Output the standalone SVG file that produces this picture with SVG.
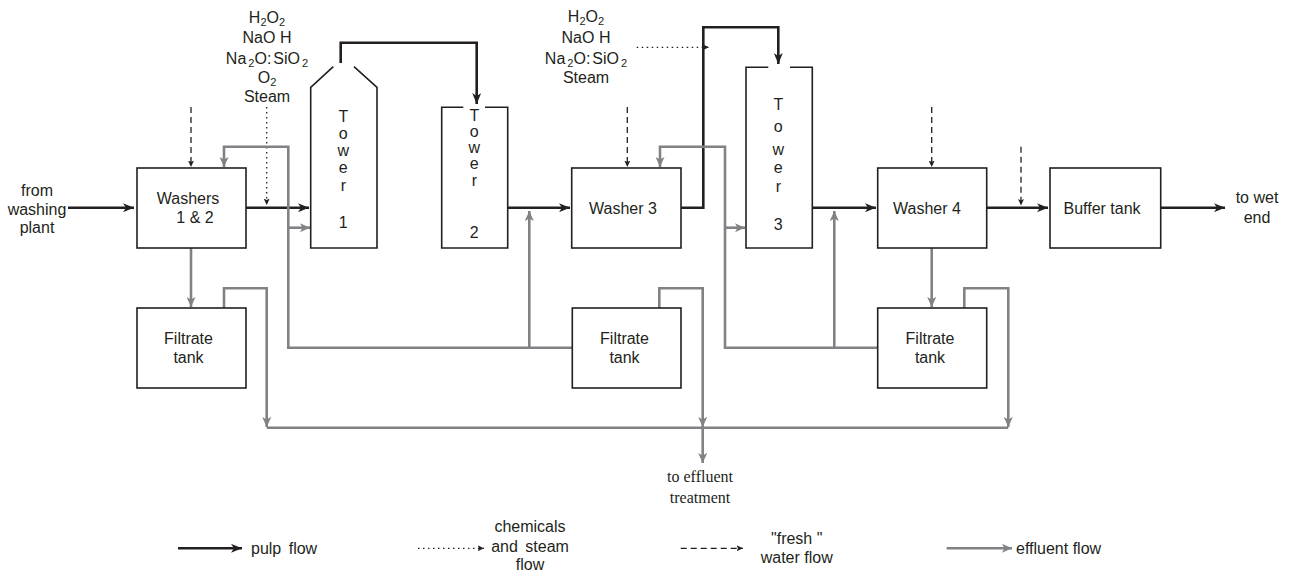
<svg xmlns="http://www.w3.org/2000/svg" width="1289" height="572" viewBox="0 0 1289 572">
<style>
text{font-family:"Liberation Sans",Arial,sans-serif;font-size:16px;fill:#231f20}
.serif{font-family:"Liberation Serif","Times New Roman",serif}
.box{fill:#fff;stroke:#231f20;stroke-width:1.6}
.tw{fill:none;stroke:#231f20;stroke-width:1.6}
.pulp{fill:none;stroke:#231f20;stroke-width:2.6}
.eff{fill:none;stroke:#808285;stroke-width:2.6}
.chem{fill:none;stroke:#231f20;stroke-width:1.3;stroke-dasharray:1.5 3.5}
.water{fill:none;stroke:#231f20;stroke-width:1.3;stroke-dasharray:6 4}
.sub{font-size:11px}
</style>
<defs>
<marker id="ap" markerUnits="userSpaceOnUse" markerWidth="12" markerHeight="9" refX="11" refY="4.5" orient="auto"><path d="M0,0 L11,4.5 L0,9 L3,4.5z" fill="#231f20"/></marker>
<marker id="ag" markerUnits="userSpaceOnUse" markerWidth="11" markerHeight="9" refX="10" refY="4.5" orient="auto"><path d="M0,0 L10,4.5 L0,9 L2.5,4.5z" fill="#808285"/></marker>
<marker id="as" markerUnits="userSpaceOnUse" markerWidth="7" markerHeight="6" refX="6.5" refY="3" orient="auto"><path d="M0,0 L6.5,3 L0,6 L1.5,3z" fill="#231f20"/></marker>
</defs>

<g id="connectors">
<!-- pulp flow -->
<path class="pulp" d="M68,207.7 H134" marker-end="url(#ap)"/>
<path class="pulp" d="M246,207.7 H309" marker-end="url(#ap)"/>
<path class="pulp" d="M340.7,63 V42.7 H476.7 V104" marker-end="url(#ap)"/>
<path class="pulp" d="M507.7,207.7 H570" marker-end="url(#ap)"/>
<path class="pulp" d="M681,207.7 H703.3 V27.3 H778.3 V64" marker-end="url(#ap)"/>
<path class="pulp" d="M812.3,207.7 H876" marker-end="url(#ap)"/>
<path class="pulp" d="M986.7,207.7 H1048" marker-end="url(#ap)"/>
<path class="pulp" d="M1160.7,207.7 H1225" marker-end="url(#ap)"/>
<!-- chemicals and steam -->
<path class="chem" d="M266.7,107 V205" marker-end="url(#as)"/>
<path class="chem" d="M636.7,47.3 H709" marker-end="url(#as)"/>
<!-- fresh water -->
<path class="water" d="M191,107 V167" marker-end="url(#as)"/>
<path class="water" d="M627.3,107 V167" marker-end="url(#as)"/>
<path class="water" d="M931.7,107 V167" marker-end="url(#as)"/>
<path class="water" d="M1021,146.7 V205.5" marker-end="url(#as)"/>
<!-- effluent -->
<path class="eff" d="M191,248 V307" marker-end="url(#ag)"/>
<path class="eff" d="M931.7,248 V307" marker-end="url(#ag)"/>
<path class="eff" d="M224,308 V288.3 H266.7 V427" marker-end="url(#ag)"/>
<path class="eff" d="M659.3,308 V288.3 H702.7 V427" marker-end="url(#ag)"/>
<path class="eff" d="M964.3,308 V288.3 H1008.3 V427" marker-end="url(#ag)"/>
<path class="eff" d="M266.7,427.7 H1008.3"/>
<path class="eff" d="M702.7,427.7 V463" marker-end="url(#ag)"/>
<path class="eff" d="M572.3,347.7 H288.3 V146.7 H224 V167" marker-end="url(#ag)"/>
<path class="eff" d="M288.3,227.7 H310" marker-end="url(#ag)"/>
<path class="eff" d="M529.3,347.7 V211" marker-end="url(#ag)"/>
<path class="eff" d="M877.7,347.7 H725 V146.7 H660 V167" marker-end="url(#ag)"/>
<path class="eff" d="M725,227.7 H745" marker-end="url(#ag)"/>
<path class="eff" d="M834.3,347.7 V211" marker-end="url(#ag)"/>
</g>

<g id="from-washing-plant">
<text x="37" y="196" text-anchor="middle">from</text>
<text x="37" y="215" text-anchor="middle">washing</text>
<text x="37" y="233" text-anchor="middle">plant</text>
</g>

<g id="chemicals-1">
<text x="267" y="23" text-anchor="middle">H<tspan class="sub" dy="3">2</tspan><tspan dy="-3">O</tspan><tspan class="sub" dy="3">2</tspan></text>
<text x="267" y="43" text-anchor="middle">NaO H</text>
<text x="267" y="64" text-anchor="middle">Na<tspan class="sub" dx="2" dy="3">2</tspan><tspan dy="-3">O:</tspan><tspan dx="2">SiO</tspan><tspan class="sub" dx="2" dy="3">2</tspan></text>
<text x="267" y="83" text-anchor="middle">O<tspan class="sub" dy="3">2</tspan></text>
<text x="267" y="102" text-anchor="middle">Steam</text>
</g>

<g id="chemicals-2">
<text x="586" y="22" text-anchor="middle">H<tspan class="sub" dy="3">2</tspan><tspan dy="-3">O</tspan><tspan class="sub" dy="3">2</tspan></text>
<text x="586" y="42.5" text-anchor="middle">NaO H</text>
<text x="586" y="64" text-anchor="middle">Na<tspan class="sub" dx="2" dy="3">2</tspan><tspan dy="-3">O:</tspan><tspan dx="2">SiO</tspan><tspan class="sub" dx="2" dy="3">2</tspan></text>
<text x="586" y="83" text-anchor="middle">Steam</text>
</g>

<g id="washers-1-2">
<rect class="box" x="137" y="168" width="109" height="80"/>
<text x="188" y="204" text-anchor="middle">Washers</text>
<text x="195" y="222.5" text-anchor="middle">1 &amp; 2</text>
</g>

<g id="tower-1">
<path class="tw" d="M333.3,66.7 L310.7,87.3 V248 H377 V87.3 L354,66.7"/>
<g text-anchor="middle">
<text x="343.3" y="122">T</text>
<text x="343.3" y="139">o</text>
<text x="343.3" y="156">w</text>
<text x="343.3" y="173">e</text>
<text x="343.3" y="191">r</text>
<text x="343.3" y="228">1</text>
</g>
</g>

<g id="tower-2">
<path class="tw" d="M463.3,107.3 H441.7 V248 H507.7 V107.3 H485"/>
<g text-anchor="middle">
<text x="474.3" y="121">T</text>
<text x="474.3" y="137">o</text>
<text x="474.3" y="153">w</text>
<text x="474.3" y="169">e</text>
<text x="474.3" y="186">r</text>
<text x="474.3" y="238">2</text>
</g>
</g>

<g id="washer-3">
<rect class="box" x="571.7" y="168" width="109.3" height="80"/>
<text x="623" y="213.5" text-anchor="middle">Washer 3</text>
</g>

<g id="tower-3">
<path class="tw" d="M768.3,67.3 H746 V248 H812.3 V67.3 H790"/>
<g text-anchor="middle">
<text x="778.3" y="110">T</text>
<text x="778.3" y="132">o</text>
<text x="778.3" y="155">w</text>
<text x="778.3" y="173">e</text>
<text x="778.3" y="191.5">r</text>
<text x="778.3" y="230">3</text>
</g>
</g>

<g id="washer-4">
<rect class="box" x="877.7" y="168" width="109" height="80"/>
<text x="927" y="213.5" text-anchor="middle">Washer 4</text>
</g>

<g id="buffer-tank">
<rect class="box" x="1050" y="168" width="110.7" height="80"/>
<text x="1102" y="213.5" text-anchor="middle">Buffer tank</text>
</g>

<g id="to-wet-end">
<text x="1257" y="203" text-anchor="middle">to wet</text>
<text x="1257" y="222.5" text-anchor="middle">end</text>
</g>

<g id="filtrate-tank-1">
<rect class="box" x="137" y="308" width="109" height="80"/>
<text x="188.5" y="343.5" text-anchor="middle">Filtrate</text>
<text x="188.5" y="363" text-anchor="middle">tank</text>
</g>

<g id="filtrate-tank-2">
<rect class="box" x="572.3" y="308" width="108.7" height="80"/>
<text x="624.5" y="343.5" text-anchor="middle">Filtrate</text>
<text x="624.5" y="363" text-anchor="middle">tank</text>
</g>

<g id="filtrate-tank-3">
<rect class="box" x="877.7" y="308" width="109" height="80"/>
<text x="930" y="343.5" text-anchor="middle">Filtrate</text>
<text x="930" y="363" text-anchor="middle">tank</text>
</g>

<g id="to-effluent-treatment">
<text class="serif" x="700" y="482" text-anchor="middle">to effluent</text>
<text class="serif" x="700" y="503" text-anchor="middle">treatment</text>
</g>

<g id="legend">
<path class="pulp" d="M178,548.3 H242" marker-end="url(#ap)"/>
<text x="251" y="554" word-spacing="3">pulp flow</text>
<path class="chem" d="M418,548.3 H484" marker-end="url(#as)"/>
<text x="530" y="532" text-anchor="middle">chemicals</text>
<text x="530" y="552" text-anchor="middle" word-spacing="3">and steam</text>
<text x="530" y="570" text-anchor="middle">flow</text>
<path class="water" d="M680.7,548.3 H743" marker-end="url(#as)"/>
<text x="796.7" y="544" text-anchor="middle">"fresh "</text>
<text x="796.7" y="563" text-anchor="middle">water flow</text>
<path class="eff" d="M946.7,548.3 H1012" marker-end="url(#ag)"/>
<text x="1016" y="553.5">effluent flow</text>
</g>
</svg>
